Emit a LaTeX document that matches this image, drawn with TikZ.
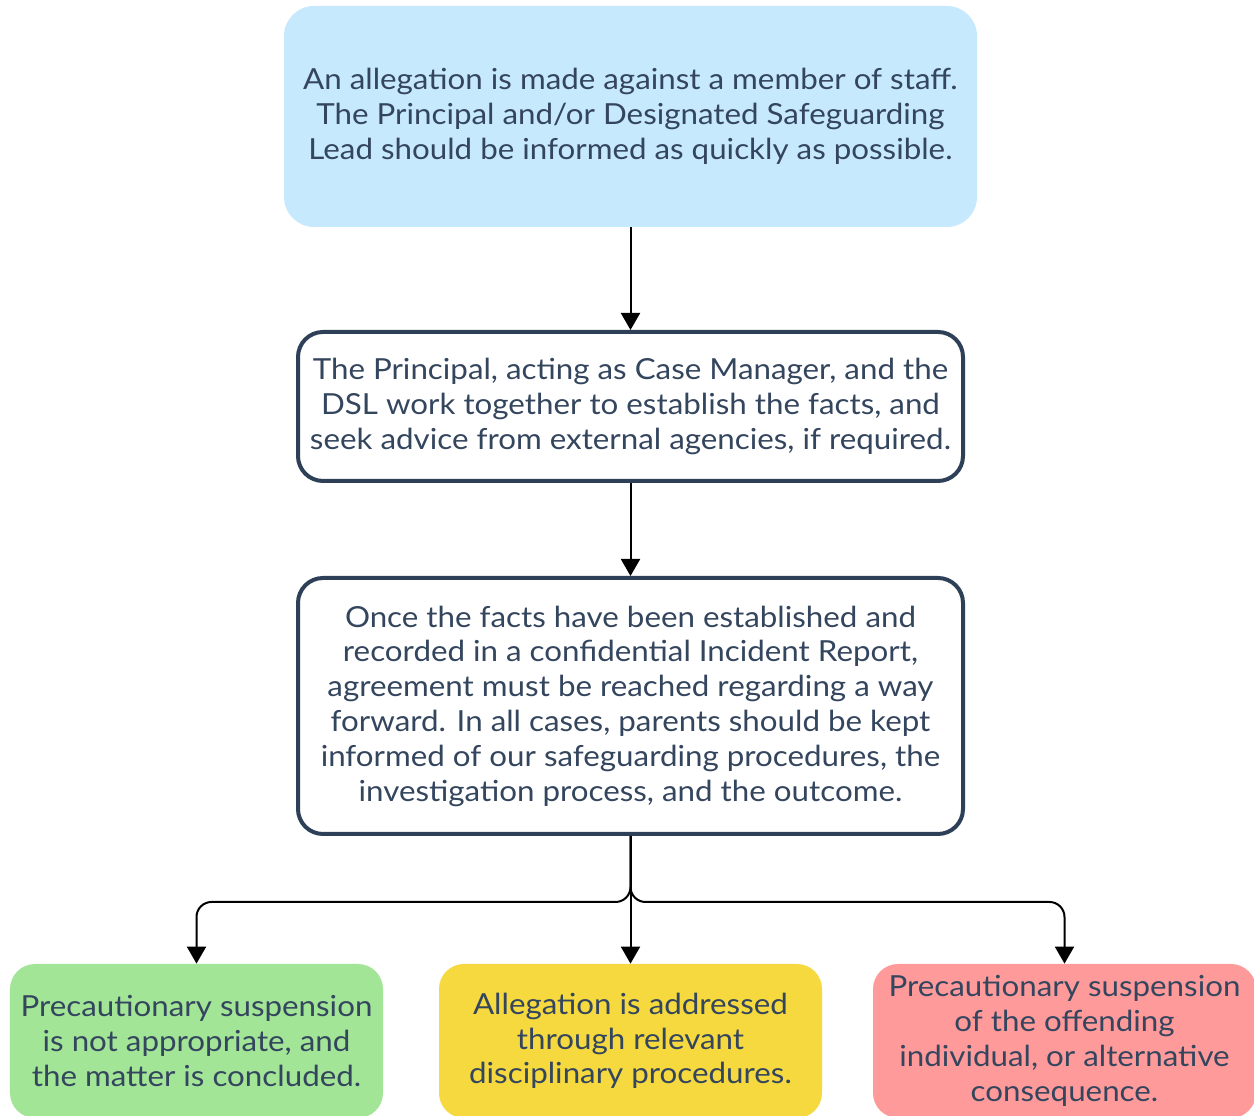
\documentclass[tikz,border=0pt]{standalone}
\usepackage{fontspec}
\setmainfont[FakeStretch=1.08]{Lato}
\usetikzlibrary{shapes,arrows.meta,positioning,calc}
\usepackage{xcolor}

\definecolor{navy}{HTML}{2E4057}
\definecolor{inktext}{HTML}{34455E}
\definecolor{skyfill}{HTML}{C6E9FE}
\definecolor{greenfill}{HTML}{A3E597}
\definecolor{yellowfill}{HTML}{F5D93E}
\definecolor{redfill}{HTML}{FF9A9A}

\begin{document}
\begin{tikzpicture}[font=\fontsize{16.5}{19.8}\selectfont, text=inktext]
    % Styles
    \tikzstyle{startbox} = [rectangle, rounded corners=0.6cm, fill=skyfill, align=center, minimum width=13.86cm, minimum height=4.42cm]
    \tikzstyle{stepbox} = [rectangle, rounded corners=0.5cm, draw=navy, line width=0.08cm, align=center, minimum width=13.3cm]
    \tikzstyle{outcome} = [rectangle, rounded corners=0.5cm, align=center, minimum width=7.5cm, minimum height=3.08cm]
    \tikzstyle{connector} = [line width=0.04cm, -{Triangle[width=0.38cm,length=0.34cm]}, rounded corners=0.3cm]

    \useasboundingbox (0,0) rectangle (25.08,22.32);

    % Boxes
    \node[startbox] (allegation) at (12.61,19.99) {An allegation is made against a member of staff.\\The Principal and/or Designated Safeguarding\\Lead should be informed as quickly as possible.};
    \node[stepbox, minimum height=2.98cm] (facts) at (12.61,14.19) {The Principal, acting as Case Manager, and the\\DSL work together to establish the facts, and\\seek advice from external agencies, if required.};
    \node[stepbox, minimum height=5.12cm] (report) at (12.61,8.2) {Once the facts have been established and\\recorded in a confidential Incident Report,\\agreement must be reached regarding a way\\forward. In all cases, parents should be kept\\informed of our safeguarding procedures, the\\investigation process, and the outcome.};

    % Outcomes
    \node[outcome, fill=greenfill, minimum width=7.46cm] (concluded) at (3.93,1.5) {Precautionary suspension\\is not appropriate, and\\the matter is concluded.};
    \node[outcome, fill=yellowfill, minimum width=7.66cm] (disciplinary) at (12.61,1.5) {Allegation is addressed\\through relevant\\disciplinary procedures.};
    \node[outcome, fill=redfill, minimum width=7.66cm] (suspension) at (21.29,1.5) {Precautionary suspension\\of the offending\\individual, or alternative\\consequence.};

    \coordinate (split) at (12.61,4.28);

    % Connectors
    \draw[connector] (allegation) -- (facts);
    \draw[connector] (facts) -- (report);
    \draw[connector] (report.south) -- (disciplinary.north);
    \draw[connector] (report.south) -- (split) -| (concluded.north);
    \draw[connector] (report.south) -- (split) -| (suspension.north);
\end{tikzpicture}
\end{document}
